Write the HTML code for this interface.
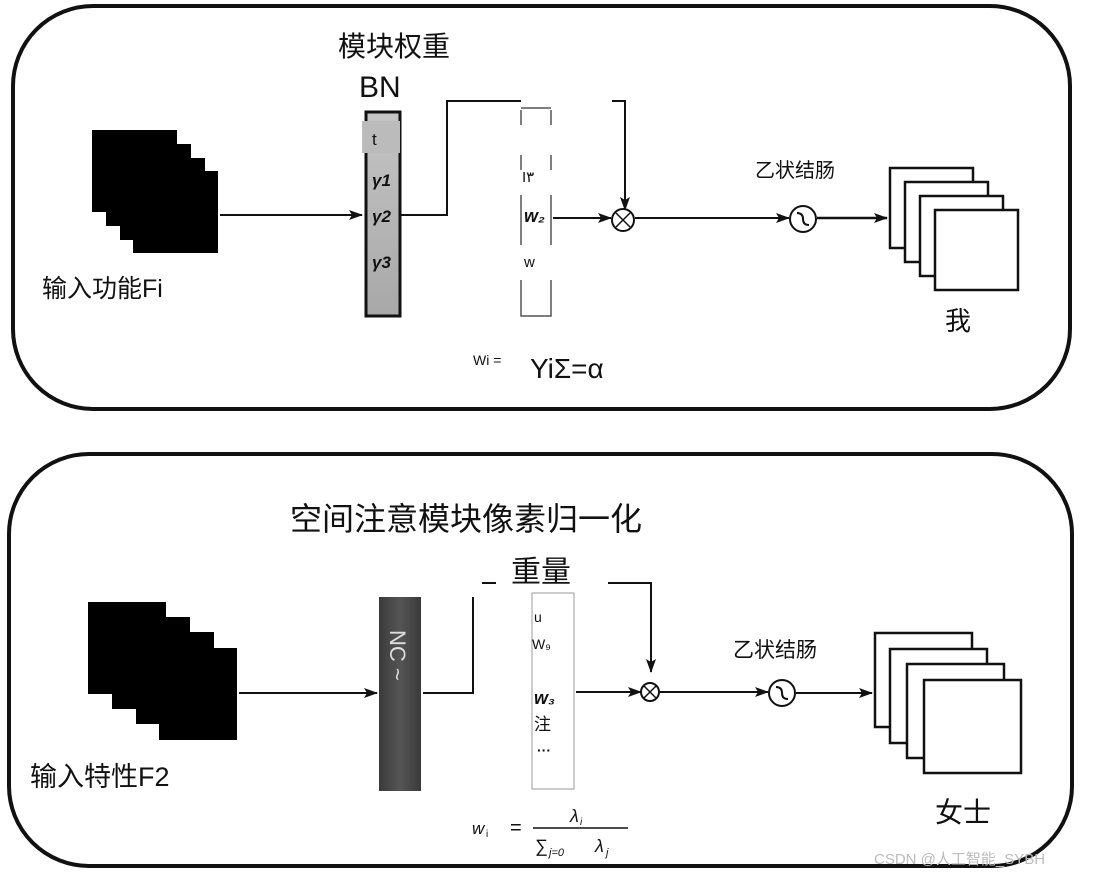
<!DOCTYPE html>
<html><head><meta charset="utf-8"><style>
body{margin:0;background:#fff;width:1098px;height:878px;overflow:hidden}
text{font-family:"Liberation Sans","Noto Sans CJK SC",sans-serif;fill:#111}
</style></head><body>
<svg width="1098" height="878" viewBox="0 0 1098 878" xmlns="http://www.w3.org/2000/svg">
<defs>
<marker id="a" markerWidth="14" markerHeight="10" refX="13" refY="5" orient="auto" markerUnits="userSpaceOnUse"><path d="M0,0 L14,5 L0,10 L3,5 Z" fill="#111"/></marker>
<linearGradient id="g1" x1="0" y1="0" x2="0" y2="1"><stop offset="0" stop-color="#c4c4c4"/><stop offset="1" stop-color="#a8a8a8"/></linearGradient>
<linearGradient id="g2" x1="0" y1="0" x2="1" y2="0"><stop offset="0" stop-color="#3a3a3a"/><stop offset="0.5" stop-color="#555"/><stop offset="1" stop-color="#3a3a3a"/></linearGradient>
</defs>
<rect x="13" y="6" width="1057" height="403" rx="80" fill="none" stroke="#111" stroke-width="4"/>
<rect x="9" y="454" width="1063" height="412" rx="80" fill="none" stroke="#111" stroke-width="4"/>

<g fill="#000">
<rect x="92" y="130" width="85" height="82"/><rect x="106" y="144" width="85" height="82"/><rect x="120" y="158" width="85" height="82"/><rect x="133" y="171" width="85" height="82"/>
</g>
<text x="42" y="297" font-size="25">输入功能Fi</text>
<line x1="220" y1="215" x2="362" y2="215" stroke="#111" stroke-width="2" marker-end="url(#a)"/>
<text x="338" y="56" font-size="28">模块权重</text>
<text x="359" y="97" font-size="30">BN</text>
<rect x="366" y="112" width="34" height="204" fill="url(#g1)" stroke="#111" stroke-width="3"/>
<rect x="362" y="121" width="38" height="32" fill="#bbb"/>
<text x="372" y="145" font-size="17">t</text>
<g font-family="Liberation Serif" font-weight="bold" font-style="italic" font-size="17">
<text x="372" y="186">γ1</text><text x="372" y="222">γ2</text><text x="372" y="268">γ3</text></g>
<polyline points="401,215 447,215 447,101 521,101" fill="none" stroke="#111" stroke-width="2"/>
<polyline points="612,101 625,101 625,210" fill="none" stroke="#111" stroke-width="2" marker-end="url(#a)"/>
<g stroke="#555" stroke-width="1.5" fill="none">
<path d="M521,110 V125 M551,110 V125 M521,108 H551 M521,155 V170 M551,155 V170 M521,195 V245 M551,195 V245 M521,280 V316 H551 V280"/></g>
<text x="522" y="182" font-size="15">I۳</text>
<text x="524" y="222" font-size="18" font-family="Liberation Serif" font-style="italic" font-weight="bold">w₂</text>
<text x="524" y="267" font-size="15">w</text>
<line x1="553" y1="218" x2="611" y2="218" stroke="#111" stroke-width="2" marker-end="url(#a)"/>
<circle cx="623" cy="220" r="11" fill="#fff" stroke="#111" stroke-width="2"/>
<path d="M616,213 L630,227 M630,213 L616,227" stroke="#111" stroke-width="1.5"/>
<line x1="635" y1="218" x2="789" y2="218" stroke="#111" stroke-width="2" marker-end="url(#a)"/>
<text x="755" y="177" font-size="20">乙状结肠</text>
<circle cx="803" cy="219" r="13" fill="#fff" stroke="#111" stroke-width="2"/>
<path d="M797,213 Q803,213 803,219 Q803,225 809,225" fill="none" stroke="#111" stroke-width="2"/>
<line x1="817" y1="218" x2="887" y2="218" stroke="#111" stroke-width="2.5" marker-end="url(#a)"/>
<g fill="#fff" stroke="#111" stroke-width="2.5">
<rect x="890" y="168" width="83" height="80"/><rect x="905" y="182" width="83" height="80"/><rect x="920" y="196" width="83" height="80"/><rect x="935" y="210" width="83" height="80"/></g>
<text x="945" y="330" font-size="26">我</text>
<text x="473" y="365" font-size="14">Wi =</text>
<text x="530" y="378" font-size="28">YiΣ=α</text>

<text x="290" y="530" font-size="32">空间注意模块像素归一化</text>
<g fill="#000">
<rect x="88" y="602" width="78" height="92"/><rect x="112" y="617" width="78" height="92"/><rect x="136" y="632" width="78" height="92"/><rect x="159" y="648" width="78" height="92"/></g>
<text x="30" y="786" font-size="27">输入特性F2</text>
<line x1="239" y1="693" x2="377" y2="693" stroke="#111" stroke-width="2" marker-end="url(#a)"/>
<rect x="379" y="597" width="42" height="194" fill="url(#g2)"/>
<text x="0" y="0" font-size="22" style="fill:#ddd" transform="translate(390,630) rotate(90)">NC ~</text>
<polyline points="423,693 473,693 473,597" fill="none" stroke="#111" stroke-width="2"/>
<line x1="482" y1="583" x2="496" y2="583" stroke="#111" stroke-width="2"/>
<text x="511" y="582" font-size="30">重量</text>
<polyline points="608,583 651,583 651,672" fill="none" stroke="#111" stroke-width="2" marker-end="url(#a)"/>
<rect x="532" y="593" width="42" height="196" fill="none" stroke="#999" stroke-width="1"/>
<text x="534" y="622" font-size="14">u</text>
<text x="532" y="649" font-size="14">W₉</text>
<text x="534" y="704" font-size="18" font-family="Liberation Serif" font-style="italic" font-weight="bold">w₃</text>
<text x="534" y="730" font-size="17">注</text>
<text x="537" y="755" font-size="14" font-weight="bold">···</text>
<line x1="576" y1="692" x2="641" y2="692" stroke="#111" stroke-width="2" marker-end="url(#a)"/>
<circle cx="650" cy="692" r="9" fill="#fff" stroke="#111" stroke-width="2"/>
<path d="M644,686 L656,698 M656,686 L644,698" stroke="#111" stroke-width="1.5"/>
<line x1="660" y1="692" x2="768" y2="692" stroke="#111" stroke-width="2" marker-end="url(#a)"/>
<text x="733" y="657" font-size="21">乙状结肠</text>
<circle cx="782" cy="693" r="13" fill="#fff" stroke="#111" stroke-width="2"/>
<path d="M776,687 Q782,687 782,693 Q782,699 788,699" fill="none" stroke="#111" stroke-width="2"/>
<line x1="796" y1="693" x2="872" y2="693" stroke="#111" stroke-width="2" marker-end="url(#a)"/>
<g fill="#fff" stroke="#111" stroke-width="2.5">
<rect x="875" y="633" width="97" height="94"/><rect x="890" y="649" width="97" height="94"/><rect x="907" y="664" width="97" height="94"/><rect x="924" y="680" width="97" height="93"/></g>
<text x="935" y="822" font-size="28">女士</text>
<g font-family="Liberation Serif">
<text x="472" y="834" font-size="17" font-style="italic">w</text><text x="486" y="837" font-size="10">i</text>
<text x="510" y="834" font-size="20">=</text>
<text x="570" y="822" font-size="18" font-style="italic">λ</text><text x="580" y="825" font-size="10" font-style="italic">i</text>
<line x1="533" y1="828" x2="628" y2="828" stroke="#111" stroke-width="1.5"/>
<text x="535" y="852" font-size="18">∑</text><text x="549" y="856" font-size="11" font-style="italic">j=0</text>
<text x="595" y="852" font-size="18" font-style="italic">λ</text><text x="606" y="856" font-size="11" font-style="italic">j</text>
</g>
<text x="874" y="864" font-size="15" style="fill:#bbb">CSDN @人工智能_SYBH</text>
</svg>
</body></html>
